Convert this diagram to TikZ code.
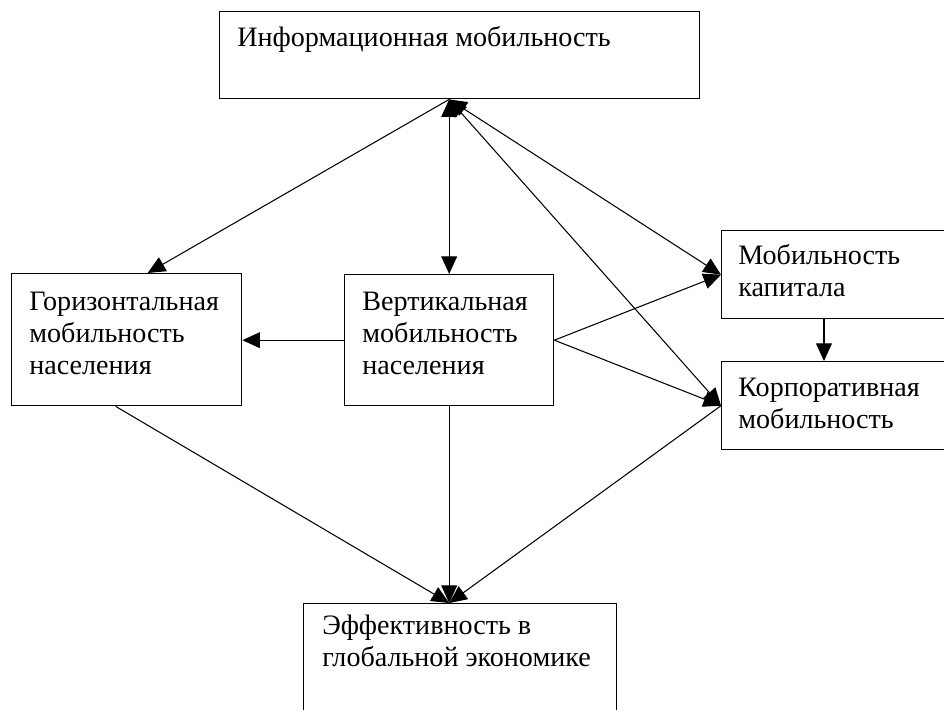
\documentclass[tikz,border=0pt]{standalone}
\usepackage{fontspec}
\setmainfont{Liberation Serif}
\usetikzlibrary{arrows.meta}

\begin{document}
\begin{tikzpicture}[x={(0.02cm,0)}, y={(0,-0.02cm)},
  box/.style={draw, line width=0.8pt, anchor=north west, inner sep=0pt},
  txt/.style={anchor=north west, align=left, inner sep=0pt, font=\fontsize{16}{18.1}\selectfont},
  arr/.style={line width=0.6pt, -{Triangle[length=10pt,width=9pt]}},
  dbl/.style={line width=0.6pt, {Triangle[length=10pt,width=9pt]}-{Triangle[length=10pt,width=9pt]}}]

\useasboundingbox (0,0) rectangle (944,710);
\clip (0,0) rectangle (944,710);

% boxes
\node[box, minimum width=9.6cm, minimum height=1.74cm] (info) at (219,11) {};
\node[box, minimum width=4.6cm, minimum height=2.64cm] (horiz) at (11,273) {};
\node[box, minimum width=4.18cm, minimum height=2.62cm] (vert) at (344,274) {};
\node[box, minimum width=4.8cm, minimum height=1.76cm] (capital) at (721,230) {};
\node[box, minimum width=4.8cm, minimum height=1.76cm] (corp) at (721,361) {};
\node[box, minimum width=6.26cm, minimum height=2.6cm] (effect) at (303,603) {};

% texts
\node[txt] (infotxt) at (237,26) {Информационная мобильность};
\node[txt] (horiztxt) at (29,292) {Горизонтальная\\мобильность\\населения};
\node[txt] (verttxt) at (362,292) {Вертикальная\\мобильность\\населения};
\node[txt] (capitaltxt) at (738,244) {Мобильность\\капитала};
\node[txt] (corptxt) at (738,378) {Корпоративная\\мобильность};
\node[txt] (effecttxt) at (322,615) {Эффективность в\\глобальной экономике};

\coordinate (top) at (info.south -| vert.north);
\coordinate (bot) at (effect.north -| vert.south);

% connectors
\draw[dbl] (top) -- (vert.north);
\draw[arr] (top) -- ([xshift=0.42cm]horiz.north);
\draw[dbl] (top) -- (capital.west);
\draw[dbl] (top) -- (corp.west);
\draw[arr] (vert.west) -- (vert.west -| horiz.east);
\draw[arr] (vert.east) -- (capital.west);
\draw[arr] (vert.east) -- (corp.west);
\draw[arr] ([xshift=2.06cm]capital.south west) -- ([xshift=2.06cm]corp.north west);
\draw[arr] ([xshift=-0.22cm]horiz.south) -- (bot);
\draw[arr] (vert.south) -- (bot);
\draw[arr] (corp.west) -- (bot);

\end{tikzpicture}
\end{document}
